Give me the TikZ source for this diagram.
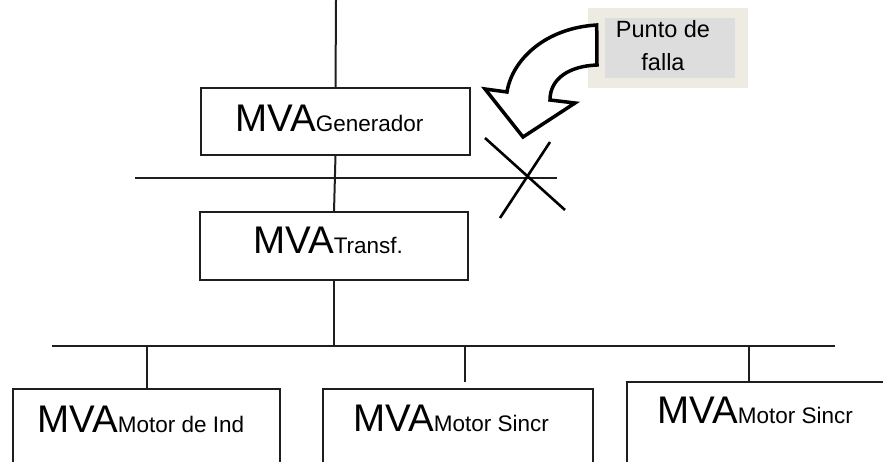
\documentclass[tikz,border=0pt]{standalone}
\usepackage{fontspec}
\setmainfont{Liberation Sans}
\usetikzlibrary{positioning}
\definecolor{lin}{RGB}{30,30,30}
\definecolor{marco}{RGB}{238,236,226}
\definecolor{fondo}{RGB}{221,221,221}
\newcommand{\mva}[1]{{\fontsize{38.5}{38.5}\selectfont MVA}{\fontsize{22.5}{22.5}\selectfont #1}}

\begin{document}
\begin{tikzpicture}[x=1pt,y=-1pt,
  box/.style={draw=lin,line width=2.2pt,anchor=north west,outer sep=0pt,inner sep=0pt},
  txt/.style={anchor=base west,inner sep=0pt},
  wire/.style={draw=lin,line width=2pt}]

\useasboundingbox (0,0) rectangle (883,461);
\clip (0,0) rectangle (883,461);

\node[box,minimum width=269pt,minimum height=67pt](gen) at (201,88) {};
\node[box,minimum width=268pt,minimum height=68pt](transf) at (200,212) {};
\node[box,minimum width=267pt,minimum height=100pt](m1) at (13,389) {};
\node[box,minimum width=270pt,minimum height=100pt](m2) at (323,389) {};
\node[box,minimum width=300pt,minimum height=100pt](m3) at (627,382) {};

\node[txt](tgen) at (235,131) {\mva{Generador}};
\node[txt](ttransf) at (253,253) {\mva{Transf.}};
\node[txt](tm1) at (37,432) {\mva{Motor de Ind}};
\node[txt](tm2) at (353,431) {\mva{Motor Sincr}};
\node[txt](tm3) at (657,423) {\mva{Motor Sincr}};

\coordinate (top) at (336,0);
\coordinate (b1w) at (135,178);
\coordinate (b1e) at (557,178);
\coordinate (b2w) at (52,346);
\coordinate (b2e) at (835,346);
\coordinate (d2) at (465,382);
\coordinate (d3) at (749,381);

\path[wire] (top) -- (gen.north);
\path[wire] (b1w) -- (b1e);
\path[wire] (gen.south) -- (transf.north);
\path[wire] (transf.south) -- (transf.south |- b2w);
\path[wire] (b2w) -- (b2e);
\path[wire] (m1.north |- b2w) -- (m1.north);
\path[wire] (d2 |- b2w) -- (d2);
\path[wire] (d3 |- b2w) -- (d3);

\coordinate (xa) at (485,138);
\coordinate (xb) at (565,210);
\coordinate (xc) at (550,142);
\coordinate (xd) at (500,218);
\path[wire,line width=2.6pt,draw=black] (xa) -- (xb);
\path[wire,line width=2.6pt,draw=black] (xc) -- (xd);

\node[fill=marco,anchor=north west,minimum width=160pt,minimum height=80pt](falla) at (588,8) {};
\node[fill=fondo,minimum width=130pt,minimum height=60pt](fallain) at (670,48) {};
\node[align=center,inner sep=0pt,font=\fontsize{23.5}{33}\selectfont](tfalla) at (663,45.5) {Punto de\\falla};

\draw[line width=3.5pt,fill=white] (596.7,25) .. controls (545,28) and (512,60) .. (507,92)
  -- (485,89) -- (523,137) -- (575,103) -- (550,100)
  .. controls (550,78) and (570,66) .. (597,65) -- cycle;

\end{tikzpicture}
\end{document}
